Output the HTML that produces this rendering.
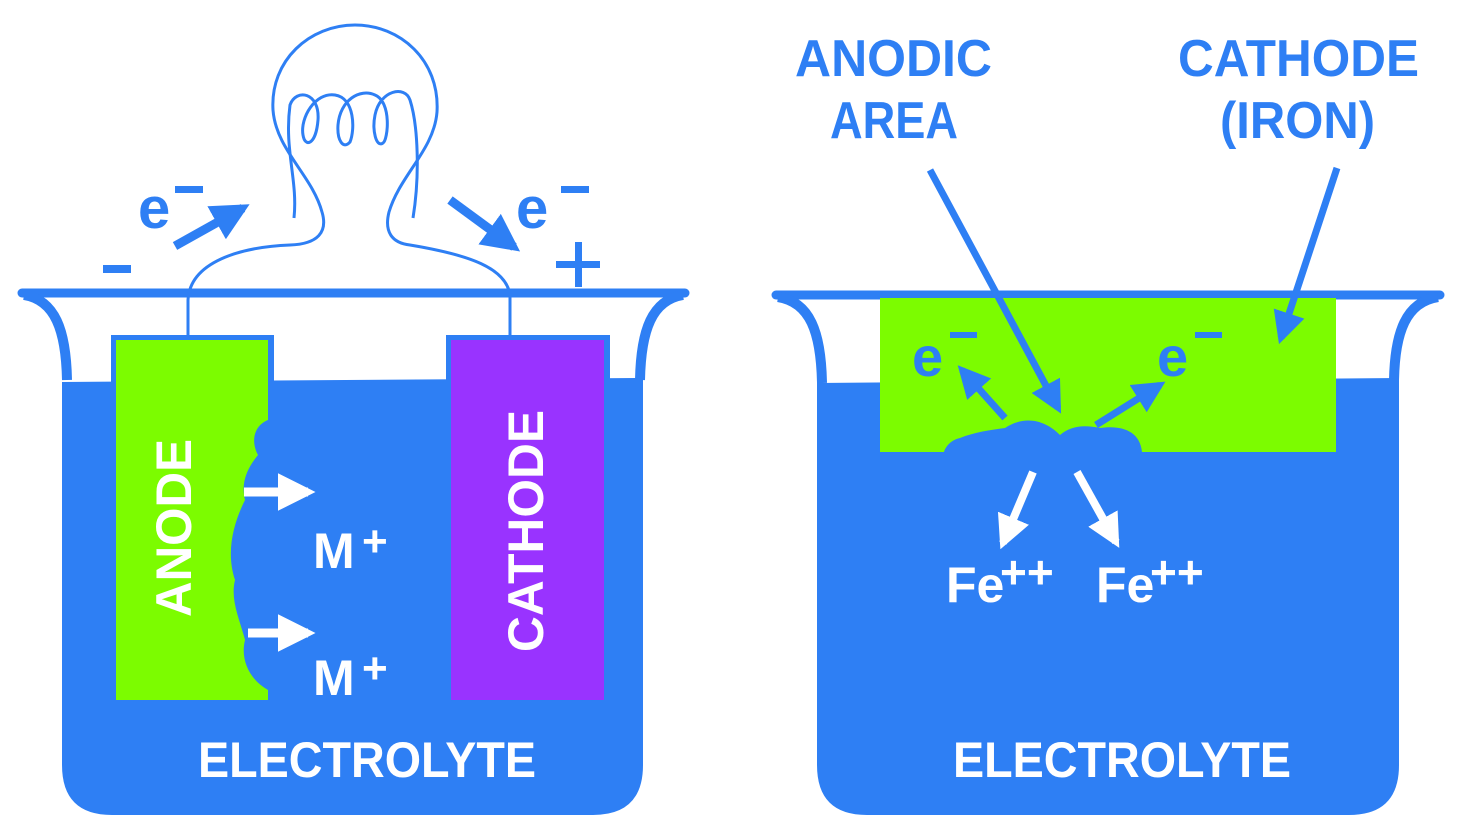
<!DOCTYPE html>
<html><head><meta charset="utf-8"><style>
html,body{margin:0;padding:0;background:#fff;}
svg{display:block;}
text{font-family:"Liberation Sans",sans-serif;font-weight:bold;}
</style></head><body>
<svg width="1459" height="830" viewBox="0 0 1459 830" xmlns="http://www.w3.org/2000/svg">
<defs>
<marker id="bh" viewBox="0 0 10 10" refX="8" refY="5" markerWidth="4.2" markerHeight="4.2" orient="auto"><path d="M0,0 L10,5 L0,10 z" fill="#2e7ff4"/></marker>
<marker id="bh2" viewBox="0 0 10 10" refX="8" refY="5" markerWidth="4.6" markerHeight="4.6" orient="auto"><path d="M0,0 L10,5 L0,10 z" fill="#2e7ff4"/></marker>
<marker id="wh" viewBox="0 0 10 10" refX="8" refY="5" markerWidth="4.2" markerHeight="4.2" orient="auto"><path d="M0,0 L10,5 L0,10 z" fill="#fff"/></marker>
</defs>
<g fill="none" stroke="#2e7ff4">
<path d="M22,293 L685,293" stroke-width="9" stroke-linecap="round"/>
<path d="M24,295 C55,300 66,330 67,380" stroke-width="10"/>
<path d="M683,295 C652,300 641,330 640,380" stroke-width="10"/>
<path d="M776,295 L1440,295" stroke-width="9" stroke-linecap="round"/>
<path d="M778,297 C810,302 821,332 822,383" stroke-width="10"/>
<path d="M1438,297 C1406,302 1395,332 1394,380" stroke-width="10"/>
</g>
<path d="M62,382 L643,378 L643,765 Q643,815 593,815 L112,815 Q62,815 62,765 Z" fill="#2e7ff4"/>
<path d="M817,383 L1399,378 L1399,765 Q1399,815 1349,815 L867,815 Q817,815 817,765 Z" fill="#2e7ff4"/>
<rect x="111" y="335" width="163" height="370" fill="#2e7ff4"/>
<path d="M116,340 L268,340 L268,420 C255,425 250,440 258,455 C250,465 240,480 245,500 C235,520 225,550 235,580 C230,600 240,620 245,640 C240,660 250,680 268,690 L268,700 L116,700 Z" fill="#7cfc00"/>
<rect x="446" y="335" width="164" height="370" fill="#2e7ff4"/>
<rect x="451" y="340" width="153" height="360" fill="#9933ff"/>
<text transform="translate(191,617) rotate(-90)" font-size="50" fill="#fff" textLength="178" lengthAdjust="spacingAndGlyphs">ANODE</text>
<text transform="translate(543,652) rotate(-90)" font-size="50" fill="#fff" textLength="242" lengthAdjust="spacingAndGlyphs">CATHODE</text>
<g fill="none" stroke="#2e7ff4" stroke-width="3">
<path d="M188,335 L188,300 C190,262 240,247 290,245 C318,244 328,232 322,212 C312,175 276,150 273,110 C270,60 310,25 355,25 C400,25 440,60 437,112 C434,150 400,175 389,212 C384,232 392,243 410,245 C470,255 506,268 510,295 L510,335"/>
<path d="M294,218 C298,180 284,150 290,105 C296,88 320,92 318,120 C316,145 305,148 303,135 C300,118 315,92 335,95 C355,98 355,130 350,142 C343,150 337,140 338,125 C340,100 360,88 375,95 C392,102 388,140 383,143 C376,148 372,130 375,115 C380,90 405,85 410,100 C418,125 420,175 413,218"/>
</g>
<g stroke="#2e7ff4" stroke-width="9">
<line x1="175" y1="246" x2="243" y2="208" marker-end="url(#bh)"/>
<line x1="450" y1="200" x2="514" y2="247" marker-end="url(#bh)"/>
</g>
<text x="138" y="228" font-size="58" fill="#2e7ff4">e</text>
<rect x="175" y="186" width="28" height="7" fill="#2e7ff4"/>
<text x="516" y="228" font-size="58" fill="#2e7ff4">e</text>
<rect x="561" y="186" width="28" height="7" fill="#2e7ff4"/>
<rect x="103" y="265" width="28" height="8" fill="#2e7ff4"/>
<rect x="556" y="261" width="44" height="7" fill="#2e7ff4"/>
<rect x="575" y="242" width="7" height="45" fill="#2e7ff4"/>
<g stroke="#fff" stroke-width="9">
<line x1="244" y1="492" x2="308" y2="492" marker-end="url(#wh)"/>
<line x1="248" y1="633" x2="308" y2="633" marker-end="url(#wh)"/>
</g>
<text x="313" y="568" font-size="50" fill="#fff">M</text>
<text x="362" y="556" font-size="44" fill="#fff" font-weight="normal">+</text>
<text x="313" y="695" font-size="50" fill="#fff">M</text>
<text x="362" y="683" font-size="44" fill="#fff" font-weight="normal">+</text>
<text x="198" y="777" font-size="50" fill="#fff" textLength="338" lengthAdjust="spacingAndGlyphs">ELECTROLYTE</text>
<path d="M880,298 L1336,298 L1336,452 L1142,452 C1140,430 1120,425 1100,428 C1085,425 1072,425 1060,435 C1045,420 1025,415 1005,428 C990,430 975,432 960,438 C950,440 945,448 944,452 L880,452 Z" fill="#7cfc00"/>
<g stroke="#2e7ff4" stroke-width="7">
<line x1="1005" y1="418" x2="962" y2="370" marker-end="url(#bh2)"/>
<line x1="1096" y1="425" x2="1160" y2="385" marker-end="url(#bh2)"/>
<line x1="930" y1="170" x2="1058" y2="408" marker-end="url(#bh2)"/>
<line x1="1337" y1="168" x2="1281" y2="338" marker-end="url(#bh2)"/>
</g>
<text x="912" y="376" font-size="56" fill="#2e7ff4">e</text>
<rect x="950" y="332" width="27" height="6" fill="#2e7ff4"/>
<text x="1157" y="376" font-size="56" fill="#2e7ff4">e</text>
<rect x="1195" y="332" width="27" height="6" fill="#2e7ff4"/>
<g stroke="#fff" stroke-width="8">
<line x1="1033" y1="472" x2="1003" y2="543" marker-end="url(#wh)"/>
<line x1="1077" y1="472" x2="1116" y2="542" marker-end="url(#wh)"/>
</g>
<text x="946" y="602" font-size="50" fill="#fff">Fe</text>
<text x="1000" y="588" font-size="46" fill="#fff" font-weight="normal">++</text>
<text x="1096" y="602" font-size="50" fill="#fff">Fe</text>
<text x="1150" y="588" font-size="46" fill="#fff" font-weight="normal">++</text>
<text x="953" y="777" font-size="50" fill="#fff" textLength="338" lengthAdjust="spacingAndGlyphs">ELECTROLYTE</text>
<text x="795" y="76" font-size="52" fill="#2e7ff4" textLength="197" lengthAdjust="spacingAndGlyphs">ANODIC</text>
<text x="830" y="138" font-size="52" fill="#2e7ff4" textLength="128" lengthAdjust="spacingAndGlyphs">AREA</text>
<text x="1178" y="76" font-size="52" fill="#2e7ff4" textLength="241" lengthAdjust="spacingAndGlyphs">CATHODE</text>
<text x="1220" y="138" font-size="52" fill="#2e7ff4" textLength="155" lengthAdjust="spacingAndGlyphs">(IRON)</text>
</svg>
</body></html>
